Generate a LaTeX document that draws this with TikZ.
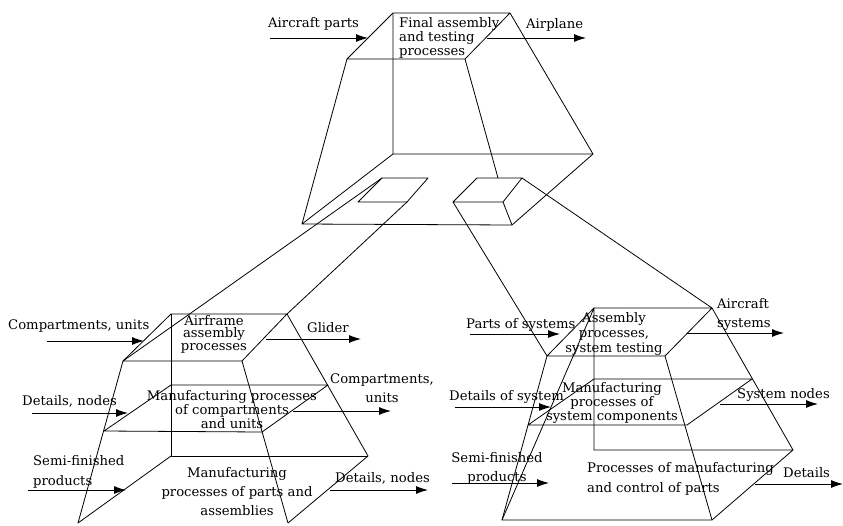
\documentclass[tikz,border=0pt]{standalone}
\usepackage{fontspec}
\setmainfont{DejaVu Serif}
\usetikzlibrary{arrows.meta}
\begin{document}
\begin{tikzpicture}[x=1pt,y=-1pt,
  edge/.style={line width=0.8pt, line join=round},
  flow/.style={line width=0.9pt, -{Latex[length=12pt,width=8pt]}},
  lbl/.style={inner sep=0pt, font=\fontsize{13.2}{14}\selectfont, align=center, anchor=base},
  lblw/.style={lbl, align=left, anchor=base west}]
\useasboundingbox (0,0) rectangle (843,525);

% ---------- top prism ----------
\coordinate (T1) at (393,13);
\coordinate (T2) at (510,13);
\coordinate (T3) at (465,59);
\coordinate (T4) at (347,59);
\coordinate (B1) at (393,154);
\coordinate (B2) at (593,154);
\coordinate (B3) at (512,225);
\coordinate (B4) at (302,224);
\coordinate (Tx) at (498,178);
% small plates
\coordinate (L1) at (382,178);
\coordinate (L2) at (428,178);
\coordinate (L3) at (407,202);
\coordinate (L4) at (358,202);
\coordinate (R1) at (477,178);
\coordinate (R2) at (522,178);
\coordinate (R3) at (503,202);
\coordinate (R4) at (453,202);

\draw[edge] (T1)--(T2)--(T3)--(T4)--cycle;
\draw[edge] (T1)--(B1)--(B2)--(T2);
\draw[edge] (B1)--(B4)--(B3)--(B2);
\draw[edge] (T4)--(B4);
\draw[edge] (T3)--(Tx);
\draw[edge] (L1)--(L2)--(L3)--(L4)--cycle;
\draw[edge] (R1)--(R2)--(R3)--(R4)--cycle;
\draw[edge] (R3)--(B3);

% ---------- left pyramid ----------
\coordinate (A1) at (171,314);
\coordinate (A2) at (287,314);
\coordinate (A3) at (242,361);
\coordinate (A4) at (123,361);
\coordinate (M1) at (171,385);
\coordinate (M2) at (328,385);
\coordinate (M3) at (262,432);
\coordinate (M4) at (104,431);
\coordinate (N1) at (171,456);
\coordinate (N2) at (368,456);
\coordinate (F3) at (288,523);
\coordinate (F4) at (78,523);

\draw[edge] (A1)--(A2)--(A3)--(A4)--cycle;
\draw[edge] (M1)--(M2)--(M3)--(M4)--cycle;
\draw[edge] (A1)--(N1)--(N2);
\draw[edge] (N1)--(F4);
\draw[edge] (N2)--(F3);
\draw[edge] (A4)--(F4);
\draw[edge] (A3)--(F3);
\draw[edge] (A2)--(N2);

% ---------- right pyramid ----------
\coordinate (C1) at (594,308);
\coordinate (C2) at (712,308);
\coordinate (C3) at (665,356);
\coordinate (C4) at (547,356);
\coordinate (D1) at (594,379);
\coordinate (D2) at (752,379);
\coordinate (D3) at (687,425);
\coordinate (D4) at (528,425);
\coordinate (E1) at (594,450);
\coordinate (E2) at (793,450);
\coordinate (G3) at (712,520);
\coordinate (G4) at (502,520);

\draw[edge] (C1)--(C2)--(C3)--(C4)--cycle;
\draw[edge] (D1)--(D2)--(D3)--(D4)--cycle;
\draw[edge] (C1)--(E1)--(E2)--(G3)--(G4)--cycle;
\draw[edge] (C4)--(G4);
\draw[edge] (C3)--(G3);
\draw[edge] (C2)--(E2);

% ---------- links between levels ----------
\draw[edge] (L1)--(A4);
\draw[edge] (L3)--(A2);
\draw[edge] (R4)--(C4);
\draw[edge] (R2)--(C2);

% ---------- top labels and flows ----------
\node[lblw] (tin) at (268,27) {Aircraft parts};
\node[lblw, font=\fontsize{13.2}{14}\selectfont] (tproc) at (399,55) {Final assembly\\and testing\\processes};
\node[lblw] (tout) at (526,28) {Airplane};
\coordinate (tinS) at (270,38);  \coordinate (tinE) at (368,38);
\coordinate (toutS) at (487,38); \coordinate (toutE) at (586,38);
\draw[flow] (tinS)--(tinE);
\draw[flow] (toutS)--(toutE);

% ---------- left pyramid labels ----------
\node[lblw] (l1in) at (8,329) {Compartments, units};
\node[lbl, font=\fontsize{13.2}{12.5}\selectfont] (l1p) at (214,350) {Airframe\\assembly\\processes};
\node[lblw] (l1out) at (307,332) {Glider};
\coordinate (l1inS) at (47,341);  \coordinate (l1inE) at (144,341);
\coordinate (l1outS) at (266,339); \coordinate (l1outE) at (361,339);
\draw[flow] (l1inS)--(l1inE);
\draw[flow] (l1outS)--(l1outE);

\node[lblw] (l2in) at (22,405) {Details, nodes};
\node[lbl, font=\fontsize{13.2}{14}\selectfont] (l2p) at (232,428) {Manufacturing processes\\of compartments\\and units};
\node[lbl, font=\fontsize{13.2}{19}\selectfont] (l2out) at (382,402) {Compartments,\\units};
\coordinate (l2inS) at (32,413);  \coordinate (l2inE) at (128,413);
\coordinate (l2outS) at (293,411); \coordinate (l2outE) at (391,411);
\draw[flow] (l2inS)--(l2inE);
\draw[flow] (l2outS)--(l2outE);

\node[lblw, font=\fontsize{13.2}{20}\selectfont] (l3in) at (33,485) {Semi-finished\\products};
\node[lbl, font=\fontsize{13.2}{19}\selectfont] (l3p) at (237,515) {Manufacturing\\processes of parts and\\assemblies};
\node[lblw] (l3out) at (335,482) {Details, nodes};
\coordinate (l3inS) at (28,490);  \coordinate (l3inE) at (126,490);
\coordinate (l3outS) at (330,490); \coordinate (l3outE) at (428,490);
\draw[flow] (l3inS)--(l3inE);
\draw[flow] (l3outS)--(l3outE);

% ---------- right pyramid labels ----------
\node[lblw] (r1in) at (466,328) {Parts of systems};
\node[lbl, font=\fontsize{13.2}{15}\selectfont] (r1p) at (614,352) {Assembly\\processes,\\system testing};
\node[lblw, font=\fontsize{13.2}{19}\selectfont] (r1out) at (717,327) {Aircraft\\systems};
\coordinate (r1inS) at (470,334);  \coordinate (r1inE) at (560,334);
\coordinate (r1outS) at (687,333); \coordinate (r1outE) at (784,333);
\draw[flow] (r1inS)--(r1inE);
\draw[flow] (r1outS)--(r1outE);

\node[lblw] (r2in) at (449,400) {Details of system};
\node[lbl, font=\fontsize{13.2}{14}\selectfont] (r2p) at (612,420) {Manufacturing\\processes of\\system components};
\node[lblw] (r2out) at (737,398) {System nodes};
\coordinate (r2inS) at (455,407);  \coordinate (r2inE) at (551,407);
\coordinate (r2outS) at (720,404); \coordinate (r2outE) at (818,404);
\draw[flow] (r2inS)--(r2inE);
\draw[flow] (r2outS)--(r2outE);

\node[lbl, font=\fontsize{13.2}{19}\selectfont] (r3in) at (497,481) {Semi-finished\\products};
\node[lblw, font=\fontsize{13.2}{20}\selectfont] (r3p) at (587,492) {Processes of manufacturing\\and control of parts};
\node[lblw] (r3out) at (783,477) {Details};
\coordinate (r3inS) at (452,483);  \coordinate (r3inE) at (549,483);
\coordinate (r3outS) at (755,484); \coordinate (r3outE) at (843,484);
\draw[flow] (r3inS)--(r3inE);
\draw[flow] (r3outS)--(r3outE);
\end{tikzpicture}
\end{document}
